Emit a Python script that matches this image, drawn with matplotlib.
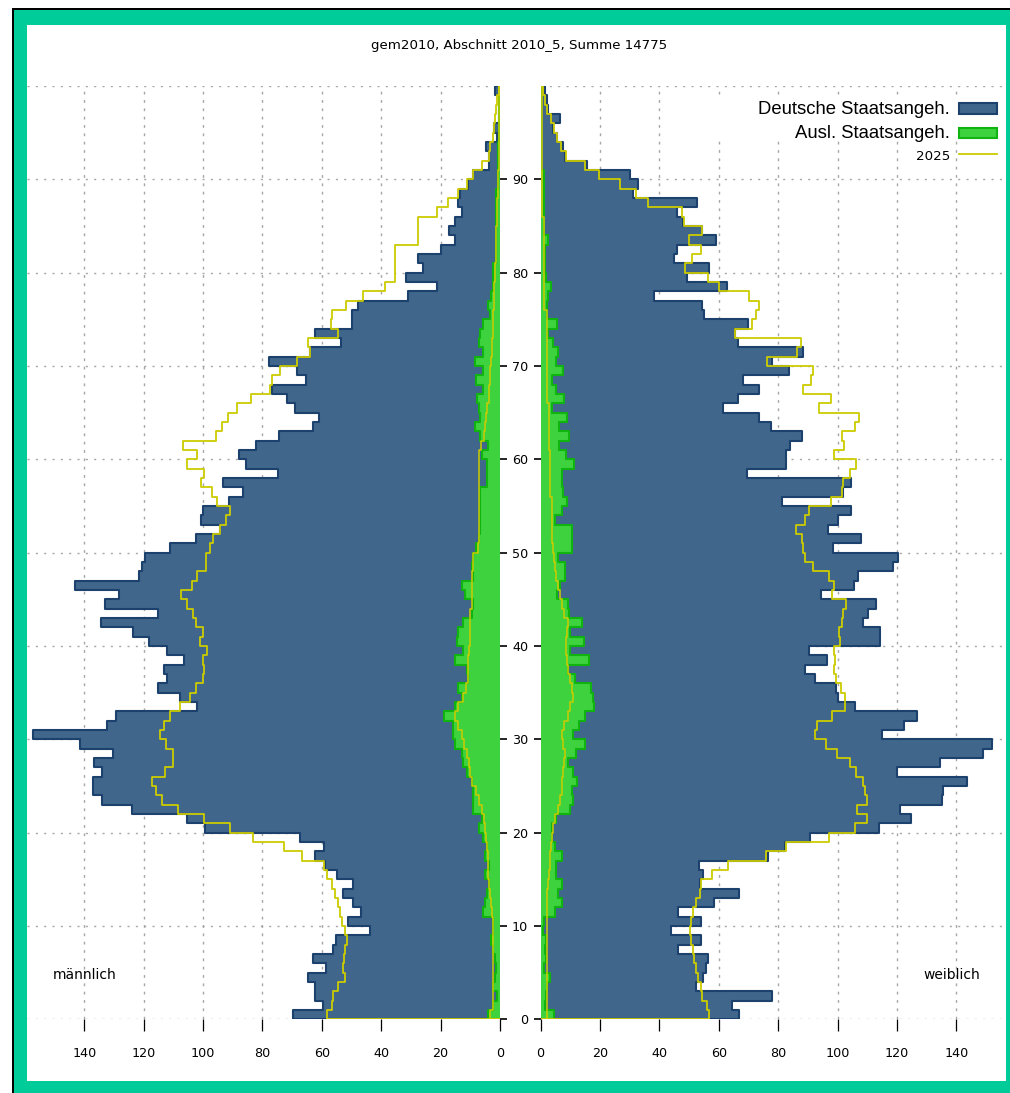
import numpy as np
import matplotlib
matplotlib.use("Agg")
import matplotlib.pyplot as plt
from matplotlib.patches import Rectangle
from matplotlib.lines import Line2D
from matplotlib import font_manager as fm

# ---------------- data (ages 0..99) ----------------
ages = np.arange(100)

male_total = [69.8, 59.7, 62.3, 62.3, 64.8, 58.6, 63.1, 56.1, 55.2, 43.8,
              51.1, 46.9, 49.6, 52.7, 49.6, 55.0, 58.9, 62.3, 59.1, 67.3,
              99.3, 105.5, 124.0, 134.1, 137.1, 137.1, 134.1, 136.7, 130.2, 141.4,
              157.3, 132.4, 129.3, 102.1, 107.7, 115.3, 112.2, 113.1, 106.4, 112.0,
              118.2, 123.5, 134.3, 115.0, 133.0, 128.2, 143.1, 121.4, 120.6, 119.5,
              111.1, 102.5, 94.3, 100.8, 99.9, 91.2, 86.4, 93.4, 74.9, 85.5,
              87.8, 82.2, 74.3, 63.1, 60.9, 69.0, 71.8, 76.9, 65.3, 68.5,
              77.7, 64.0, 53.6, 62.3, 50.0, 50.0, 47.9, 30.9, 21.3, 31.6,
              25.8, 27.5, 19.9, 15.1, 17.1, 15.1, 12.9, 14.3, 13.5, 10.7,
              9.2, 3.7, 3.7, 4.8, 1.0, 1.9, 0.5, 0.5, 0.5, 1.7]

male_foreign = [3.9, 2.5, 1.0, 2.5, 1.7, 1.3, 1.7, 2.2, 3.1, 2.2,
                2.2, 5.6, 5.0, 4.5, 3.6, 5.0, 3.6, 5.0, 4.5, 5.6,
                7.0, 6.2, 9.2, 9.0, 9.2, 9.5, 11.2, 12.3, 12.9, 15.1,
                15.7, 15.7, 19.0, 15.1, 12.9, 14.0, 10.7, 11.2, 15.1, 12.6,
                14.6, 14.0, 12.3, 9.5, 9.0, 11.8, 12.9, 9.0, 9.5, 9.0,
                8.0, 7.2, 6.7, 6.7, 6.7, 6.7, 6.7, 4.5, 4.5, 4.5,
                6.2, 3.9, 6.7, 8.4, 6.7, 7.2, 7.9, 5.6, 8.1, 5.6,
                8.4, 5.6, 7.2, 6.7, 5.6, 3.4, 4.0, 3.0, 2.5, 2.2,
                2.2, 1.5, 1.5, 1.5, 1.5, 1.5, 1.5, 1.5, 1.5, 0.8,
                0.8, 0.8, 0.8, 0.8, 0.5, 0.5, 0.5, 0.5, 0.5, 0.5]

male_2025 = [58.4, 56.7, 56.1, 54.4, 52.2, 52.7, 52.5, 52.2, 51.6, 52.2,
             53.3, 53.9, 54.4, 55.5, 56.4, 58.2, 59.3, 66.8, 72.6, 83.1,
             90.9, 99.5, 108.3, 113.9, 115.8, 117.3, 112.8, 110.0, 110.0, 112.6,
             114.5, 113.1, 111.1, 107.7, 104.4, 102.4, 99.9, 99.6, 99.9, 98.5,
             101.0, 99.9, 102.5, 103.2, 105.5, 107.4, 103.6, 102.1, 99.0, 99.0,
             97.5, 96.7, 94.3, 92.3, 90.9, 95.4, 97.1, 100.8, 99.7, 105.3,
             102.1, 106.6, 95.7, 93.7, 91.7, 88.7, 83.8, 77.4, 76.9, 74.0,
             68.5, 64.0, 64.5, 54.4, 56.8, 56.7, 51.9, 46.0, 38.7, 35.4,
             35.4, 35.4, 35.4, 27.5, 27.5, 27.5, 21.3, 17.5, 14.1, 11.0,
             9.2, 6.2, 3.7, 3.5, 2.5, 2.0, 1.8, 1.3, 1.0, 0.5]

male_foreign_2025 = [3.4, 2.5, 2.5, 2.5, 2.5, 2.5, 2.5, 2.5, 2.5, 2.5,
                     2.5, 2.8, 3.0, 3.2, 3.6, 4.0, 4.0, 4.0, 4.5, 4.8,
                     5.0, 5.5, 6.2, 7.0, 8.0, 9.5, 10.0, 10.5, 11.2, 12.0,
                     12.9, 14.0, 15.0, 14.0, 12.3, 11.5, 10.7, 10.7, 10.7, 10.5,
                     10.1, 10.0, 10.0, 10.0, 9.5, 9.5, 9.3, 9.3, 9.0, 9.0,
                     7.5, 7.0, 7.0, 7.0, 7.0, 7.0, 7.0, 7.0, 7.0, 7.0,
                     7.0, 6.5, 5.5, 5.0, 4.8, 4.5, 3.8, 3.6, 3.4, 3.2,
                     3.0, 2.8, 2.6, 2.5, 2.4, 2.2, 2.0, 2.0, 2.0, 1.8,
                     1.6, 1.5, 1.4, 1.3, 1.2, 1.1, 1.0, 0.9, 0.8, 0.7,
                     0.6, 0.5, 0.4, 0.4, 0.3, 0.3, 0.3, 0.3, 0.3, 0.3]

female_total = [66.9, 64.3, 78.0, 52.2, 54.8, 55.7, 56.5, 46.2, 54.0, 43.9,
                54.0, 46.2, 58.5, 66.9, 53.7, 54.8, 53.4, 76.7, 82.3, 90.7,
                114.0, 124.6, 121.0, 135.0, 135.6, 143.5, 119.9, 134.5, 148.8, 151.9,
                114.8, 122.4, 126.8, 105.9, 100.0, 99.5, 92.4, 89.0, 96.5, 90.5,
                114.3, 114.3, 108.7, 110.3, 112.9, 94.3, 105.5, 107.0, 118.5, 120.4,
                98.6, 107.8, 96.9, 100.2, 104.4, 81.2, 101.9, 104.4, 69.4, 82.5,
                82.5, 84.0, 88.1, 77.5, 73.6, 61.3, 66.6, 73.6, 68.3, 83.7,
                77.8, 88.5, 66.6, 65.5, 69.9, 55.0, 54.2, 38.2, 62.7, 49.2,
                56.7, 44.9, 45.8, 58.9, 54.2, 48.0, 45.8, 52.6, 31.0, 32.9,
                30.1, 15.5, 8.2, 7.7, 5.6, 4.1, 6.5, 2.6, 2.3, 1.5]

female_foreign = [4.5, 1.5, 1.8, 2.0, 3.2, 1.1, 1.8, 1.5, 1.8, 0.9,
                  1.1, 4.8, 7.1, 6.0, 7.1, 5.2, 5.2, 7.1, 4.8, 3.7,
                  3.7, 5.2, 9.9, 10.8, 10.5, 12.1, 11.0, 9.3, 11.9, 14.9,
                  10.8, 13.0, 14.9, 18.0, 17.5, 16.9, 11.6, 9.3, 16.4, 9.9,
                  14.6, 9.9, 13.8, 9.7, 9.3, 5.4, 6.5, 8.2, 8.2, 6.0,
                  10.5, 10.5, 10.5, 4.8, 7.3, 8.8, 7.6, 7.3, 7.3, 11.2,
                  8.5, 6.3, 9.7, 6.3, 8.8, 3.7, 8.0, 5.2, 3.7, 7.6,
                  5.2, 6.0, 4.3, 2.6, 5.4, 2.0, 2.0, 2.6, 3.4, 1.8,
                  1.5, 1.5, 1.5, 2.6, 1.0, 1.0, 1.0, 1.0, 1.0, 1.0,
                  1.0, 0.3, 0.3, 0.3, 0.3, 0.3, 0.3, 0.3, 0.3, 0.3]

female_2025 = [56.6, 56.0, 54.5, 54.0, 53.1, 52.3, 51.6, 51.2, 50.6, 50.3,
               50.5, 51.2, 52.2, 53.7, 54.0, 57.6, 63.2, 75.9, 82.6, 97.1,
               105.9, 110.0, 106.4, 110.0, 109.2, 108.7, 106.2, 104.2, 99.7, 96.1,
               92.4, 93.0, 98.0, 102.5, 102.5, 101.0, 99.5, 98.8, 99.1, 98.8,
               100.8, 100.6, 101.4, 101.9, 102.8, 98.0, 98.8, 97.2, 91.8, 89.0,
               88.2, 88.1, 86.0, 89.0, 90.5, 97.7, 101.6, 101.9, 104.2, 106.2,
               98.8, 102.2, 101.4, 105.7, 107.2, 93.8, 97.7, 88.5, 91.0, 91.8,
               76.3, 86.2, 87.6, 65.5, 71.1, 72.5, 73.6, 70.2, 60.1, 56.5,
               48.6, 51.1, 54.0, 50.1, 54.2, 48.3, 47.5, 36.3, 32.1, 26.7,
               19.8, 15.0, 8.5, 7.0, 5.6, 4.5, 3.4, 2.3, 1.5, 0.7]

female_foreign_2025 = [2.0, 2.2, 2.2, 2.2, 2.2, 2.2, 2.2, 2.2, 2.2, 2.2,
                       2.2, 2.2, 2.2, 2.3, 2.4, 2.8, 3.0, 3.2, 3.5, 3.7,
                       4.3, 5.0, 6.0, 6.5, 7.1, 7.3, 7.6, 8.0, 8.2, 7.6,
                       7.1, 8.0, 9.3, 10.0, 10.8, 10.5, 9.9, 9.3, 8.8, 8.6,
                       8.5, 8.8, 9.3, 8.0, 7.1, 6.5, 6.0, 5.3, 4.8, 4.4,
                       4.1, 3.8, 3.8, 3.8, 3.8, 3.8, 3.2, 3.2, 3.2, 3.2,
                       3.2, 2.8, 2.8, 2.8, 2.8, 2.8, 2.0, 2.0, 2.0, 2.0,
                       2.0, 2.2, 2.2, 2.2, 2.2, 2.2, 1.3, 1.3, 1.3, 1.3,
                       1.3, 1.3, 1.3, 1.3, 1.3, 1.3, 0.5, 0.5, 0.5, 0.5,
                       0.5, 0.5, 0.5, 0.5, 0.5, 0.5, 0.5, 0.5, 0.5, 0.5]

xtick_vals = [0, 20, 40, 60, 80, 100, 120, 140]
ytick_vals = [0, 10, 20, 30, 40, 50, 60, 70, 80, 90]
title_text = "gem2010, Abschnitt 2010_5, Summe 14775"
legend_labels = ["Deutsche Staatsangeh.", "Ausl. Staatsangeh.", "2025"]

# ---------------- styling ----------------
W, H = 1010, 1093
BLUE = "#41668c"
BLUE_EDGE = "#1d416d"
GREEN = "#3fd23f"
GREEN_EDGE = "#0fb40f"
YELLOW = "#cccc00"
TEAL = "#00cc99"
GRID = "#a6a6a6"


def have_font(name):
    try:
        fm.findfont(fm.FontProperties(family=name), fallback_to_default=False)
        return True
    except Exception:
        return False


if have_font("Liberation Sans Narrow"):
    NARROW = "Liberation Sans Narrow"
    nscale = 1.0
else:
    NARROW = "DejaVu Sans"
    nscale = 0.8
SANS = "Liberation Sans" if have_font("Liberation Sans") else "DejaVu Sans"


def fx(px):
    return px / W


def fy(py):
    return 1 - py / H


fig = plt.figure(figsize=(W / 100, H / 100), dpi=100)

# frame
fig.patches.append(Rectangle((0, 0), 1, 1, transform=fig.transFigure,
                             facecolor="white", edgecolor="none", zorder=-10))
fig.patches.append(Rectangle((fx(12), 0), fx(W - 12), fy(8), transform=fig.transFigure,
                             facecolor="black", edgecolor="none", zorder=-9))
fig.patches.append(Rectangle((fx(14), 0), fx(W - 14), fy(10), transform=fig.transFigure,
                             facecolor=TEAL, edgecolor="none", zorder=-8))
fig.patches.append(Rectangle((fx(27), fy(1081)), fx(1006 - 27), (1081 - 25) / H,
                             transform=fig.transFigure,
                             facecolor="white", edgecolor="none", zorder=-7))

y_top_px, y_bot_px = 86.0, 1019.3
ax_b = fy(y_bot_px)
ax_h = (y_bot_px - y_top_px) / H
PXU = 2.97  # pixels per person

axL = fig.add_axes([fx(27), ax_b, fx(500 - 27), ax_h])
axR = fig.add_axes([fx(540.6), ax_b, fx(1006 - 540.6), ax_h])
axL.set_xlim((500 - 27) / PXU, 0)
axR.set_xlim(0, (1006 - 540.6) / PXU)


def step_xy(vals):
    v = np.asarray(vals, float)
    y = np.concatenate([[0], np.repeat(np.arange(1, 100), 2), [100]])
    x = np.repeat(v, 2)
    return x, y


def closed(vals):
    x, y = step_xy(vals)
    return np.concatenate([[0], x, [0]]), np.concatenate([[0], y, [100]])


for ax, tot, frn, l25, lf25 in [
        (axL, male_total, male_foreign, male_2025, male_foreign_2025),
        (axR, female_total, female_foreign, female_2025, female_foreign_2025)]:
    ax.set_facecolor("none")
    ax.set_ylim(0, 100)
    for s in ax.spines.values():
        s.set_visible(False)
    # grid
    for v in xtick_vals[1:]:
        ax.axvline(v, color=GRID, lw=1.0, ls=(0, (2, 4)), zorder=0)
    for v in ytick_vals + [100]:
        ax.axhline(v, color=GRID, lw=1.0, ls=(0, (1.5, 4.5)), zorder=0)
    # German + foreign (total)
    x, y = step_xy(tot)
    ax.fill_betweenx(y, 0, x, color=BLUE, lw=0, zorder=2)
    cx, cy = closed(tot)
    ax.plot(cx, cy, color=BLUE_EDGE, lw=1.5, zorder=3)
    # foreign
    x, y = step_xy(frn)
    ax.fill_betweenx(y, 0, x, color=GREEN, lw=0, zorder=4)
    cx, cy = closed(frn)
    ax.plot(cx, cy, color=GREEN_EDGE, lw=1.5, zorder=5)
    # 2025 lines
    cx, cy = closed(l25)
    ax.plot(cx, cy, color=YELLOW, lw=1.3, zorder=6)
    cx, cy = closed(lf25)
    ax.plot(cx, cy, color=YELLOW, lw=1.1, zorder=6)

    ax.set_xticks(xtick_vals)
    ax.set_xticklabels([str(v) for v in xtick_vals], fontfamily=NARROW,
                       fontsize=11.5 * nscale)
    ax.tick_params(axis="x", direction="out", length=8.6, width=0.9,
                   pad=11.5, colors="black")
    ax.set_yticks(ytick_vals)

axL.yaxis.tick_right()
axL.tick_params(axis="y", direction="out", length=5, width=1.2, labelright=False)
axR.tick_params(axis="y", direction="out", length=5, width=1.2, pad=4)
axR.set_yticklabels([str(v) for v in ytick_vals], fontfamily=NARROW,
                    fontsize=11.5 * nscale)

# texts
fig.text(fx(519), fy(46), title_text, ha="center", va="center",
         fontfamily=NARROW, fontsize=12 * nscale)
fig.text(fx(85), fy(975), "männlich", ha="center", va="center",
         fontfamily=NARROW, fontsize=12.5 * nscale)
fig.text(fx(952), fy(975), "weiblich", ha="center", va="center",
         fontfamily=NARROW, fontsize=12.5 * nscale)

# legend (manual, gnuplot style)
fig.patches.append(Rectangle((fx(705), fy(141)), fx(1000 - 705), (141 - 96) / H,
                             transform=fig.transFigure, facecolor="white",
                             edgecolor="none", zorder=1))
fig.text(fx(950), fy(109), legend_labels[0], ha="right", va="center",
         fontfamily=SANS, fontsize=13.3, zorder=5)
fig.text(fx(950), fy(133), legend_labels[1], ha="right", va="center",
         fontfamily=SANS, fontsize=13.3, zorder=5)
fig.text(fx(950), fy(156), legend_labels[2], ha="right", va="center",
         fontfamily=NARROW, fontsize=12 * nscale, zorder=5)
fig.patches.append(Rectangle((fx(959), fy(114)), fx(38), 11 / H,
                             transform=fig.transFigure, facecolor=BLUE,
                             edgecolor=BLUE_EDGE, lw=1.5, zorder=5))
fig.patches.append(Rectangle((fx(959), fy(138)), fx(38), 10 / H,
                             transform=fig.transFigure, facecolor=GREEN,
                             edgecolor=GREEN_EDGE, lw=1.5, zorder=5))
fig.lines.append(Line2D([fx(959), fx(997)], [fy(154), fy(154)],
                        transform=fig.transFigure, color=YELLOW, lw=1.3, zorder=5))

fig.savefig("out.png", dpi=100)
